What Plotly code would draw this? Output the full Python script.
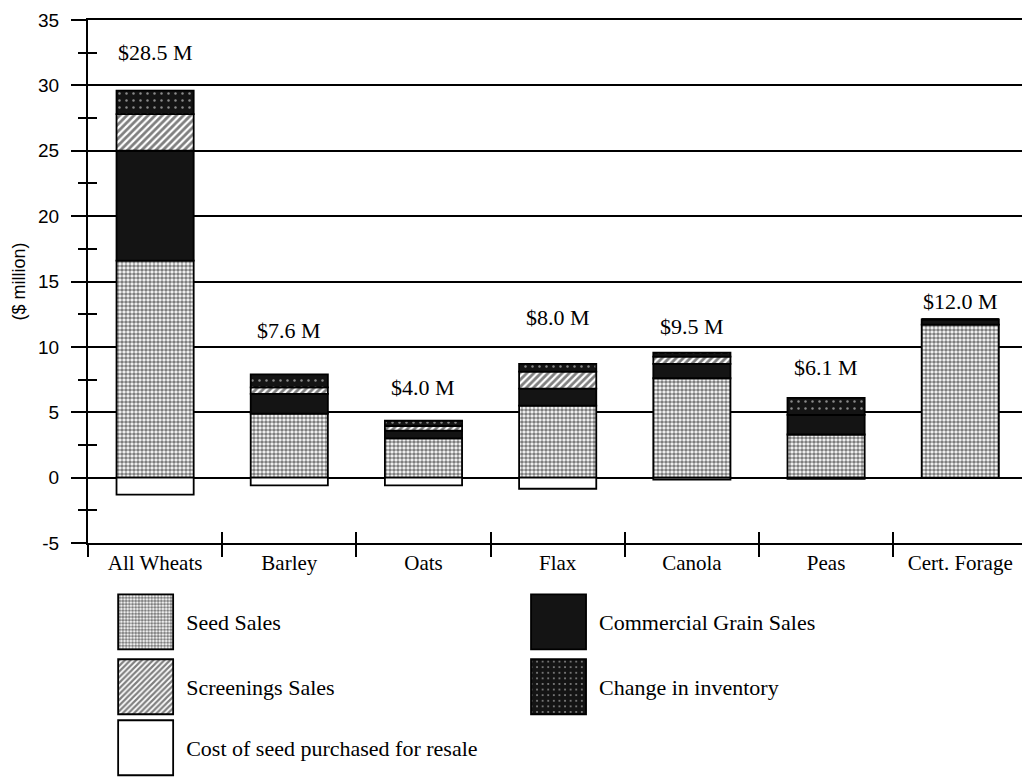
import numpy as np
import plotly.graph_objects as go

# ---- data ----
categories = ["All Wheats", "Barley", "Oats", "Flax", "Canola", "Peas", "Cert. Forage"]
seed_sales = [16.6, 4.9, 3.0, 5.5, 7.6, 3.3, 11.7]
commercial_grain = [8.4, 1.5, 0.6, 1.3, 1.1, 1.5, 0.4]
screenings_sales = [2.8, 0.5, 0.35, 1.3, 0.55, 0.0, 0.0]
inventory_change = [1.8, 1.0, 0.4, 0.6, 0.3, 1.3, 0.0]
seed_cost = [-1.3, -0.6, -0.6, -0.85, -0.15, -0.1, 0.0]
total_labels = ["$28.5 M", "$7.6 M", "$4.0 M", "$8.0 M", "$9.5 M", "$6.1 M", "$12.0 M"]
y_tick_values = [-5, 0, 5, 10, 15, 20, 25, 30, 35]
y_tick_labels = ["-5", "0", "5", "10", "15", "20", "25", "30", "35"]

# ---- style ----
label_lift = [38, 44, 33, 46, 26, 30, 18]  # px above bar top
SERIF = "Liberation Serif"
SANS = "Liberation Sans"
BAR_W = 0.575
OUTLINE = dict(color="black", width=1.8)

series = [
    ("Seed Sales", seed_sales, dict(color="white", pattern=dict(shape=".", fgcolor="black", bgcolor="white", size=4, solidity=0.65)), "legend"),
    ("Commercial Grain Sales", commercial_grain, dict(color="#141414"), "legend2"),
    ("Screenings Sales", screenings_sales, dict(color="white", pattern=dict(shape="/", fgcolor="black", bgcolor="white", size=5, solidity=0.55)), "legend3"),
    ("Change in inventory", inventory_change, dict(color="#141414", pattern=dict(shape=".", fgcolor="white", bgcolor="#141414", size=7, solidity=0.1)), "legend4"),
    ("Cost of seed purchased for resale", seed_cost, dict(color="white"), "legend5"),
]

fig = go.Figure()
for name, vals, mk, lg in series:
    mk = dict(mk)
    mk["line"] = OUTLINE
    fig.add_trace(go.Bar(x=categories, y=vals, name=name, marker=mk, width=BAR_W, legend=lg))

# invisible carrier of the overlay axes (they only add the inner halves of the ticks)
fig.add_trace(go.Scatter(x=categories, y=seed_sales, xaxis="x2", yaxis="y2", mode="none",
                         showlegend=False, hoverinfo="skip"))

tops = [a + b + c + d for a, b, c, d in zip(seed_sales, commercial_grain, screenings_sales, inventory_change)]
for cat, top, txt, lift in zip(categories, tops, total_labels, label_lift):
    fig.add_annotation(x=cat, y=top, text=txt, showarrow=False, yanchor="middle", yshift=lift,
                       font=dict(family=SERIF, size=22, color="black"))

xr = [-0.5, 6.46]
yr = [-5, 35]
fig.update_layout(
    width=1022, height=781,
    margin=dict(l=88, r=0, t=20, b=238),
    paper_bgcolor="white", plot_bgcolor="white",
    barmode="relative",
    font=dict(family=SERIF, color="black"),
    xaxis=dict(type="category", categoryorder="array", categoryarray=categories, range=xr,
               tickson="boundaries", ticks="outside", ticklen=12, automargin=False,
               tickwidth=2, tickcolor="black", showline=True, linecolor="black", linewidth=2,
               mirror=True, showgrid=False, tickfont=dict(family=SERIF, size=21, color="black")),
    xaxis2=dict(type="category", categoryorder="array", categoryarray=categories, overlaying="x",
                range=xr, tickson="boundaries", ticks="inside", automargin=False,
                ticklen=11, tickwidth=2, tickcolor="black", showticklabels=False, showline=False,
                showgrid=False),
    yaxis=dict(range=yr, tickmode="array", tickvals=y_tick_values, ticktext=y_tick_labels,
               ticks="outside", ticklen=15, tickwidth=2, tickcolor="black",
               showline=True, linecolor="black", linewidth=2, showgrid=True, gridcolor="black",
               gridwidth=2, zeroline=True, zerolinecolor="black", zerolinewidth=2, automargin=False,
               minor=dict(dtick=2.5, ticks="outside", ticklen=8, tickwidth=2, tickcolor="black", showgrid=False),
               tickfont=dict(family=SANS, size=19, color="black"), ticklabelstandoff=8,
               title=dict(text="($ million)", font=dict(family=SANS, size=18, color="black"), standoff=8)),
    yaxis2=dict(overlaying="y", range=yr, tickmode="array", tickvals=[float(v) for v in np.arange(-2.5, 35, 5)],
                ticks="inside", ticklen=9, tickwidth=2, tickcolor="black", showticklabels=False,
                showgrid=False, zeroline=False, showline=False, automargin=False),
)

legend_pos = {"legend": (0.143, 0.2036), "legend2": (0.547, 0.2036), "legend3": (0.143, 0.1204),
              "legend4": (0.547, 0.1204), "legend5": (0.143, 0.0423)}
for key, (lx, ly) in legend_pos.items():
    fig.update_layout({key: dict(x=lx, y=ly, xref="container", yref="container", xanchor="left",
                                 yanchor="middle", orientation="h", bgcolor="rgba(0,0,0,0)",
                                 font=dict(family=SERIF, size=22, color="black"))})

post = """
document.documentElement.style.margin = '0';
document.documentElement.style.overflow = 'hidden';
document.body.style.margin = '0';
document.body.style.overflow = 'hidden';
function fixLegend(){
  document.querySelectorAll('g.traces').forEach(function(tr){
    try {
      var txt = tr.querySelector('text');
      if (!txt) return;
      var a = tr;
      while (a && a.tagName && a.tagName.toLowerCase() !== 'svg') {
        if (a.hasAttribute && a.hasAttribute('clip-path')) a.removeAttribute('clip-path');
        a = a.parentNode;
      }
      var tb = txt.getBoundingClientRect();
      tr.querySelectorAll('path').forEach(function(path){
        var m = path.getScreenCTM();
        if (!m) return;
        var r = Math.round(tb.left - 13 - m.e), l = r - 55;
        var d = 'M' + l + ',-27.5H' + r + 'V27.5H' + l + 'Z';
        if (path.getAttribute('d') !== d) path.setAttribute('d', d);
      });
    } catch (e) {}
  });
}
fixLegend();
var obs = new MutationObserver(function(){ fixLegend(); });
obs.observe(document.body, {subtree: true, childList: true, attributes: true, attributeFilter: ['d', 'transform', 'clip-path']});
setTimeout(fixLegend, 50);
setTimeout(fixLegend, 300);
"""

fig.write_html("out.html", post_script=post, config={"displayModeBar": False})
